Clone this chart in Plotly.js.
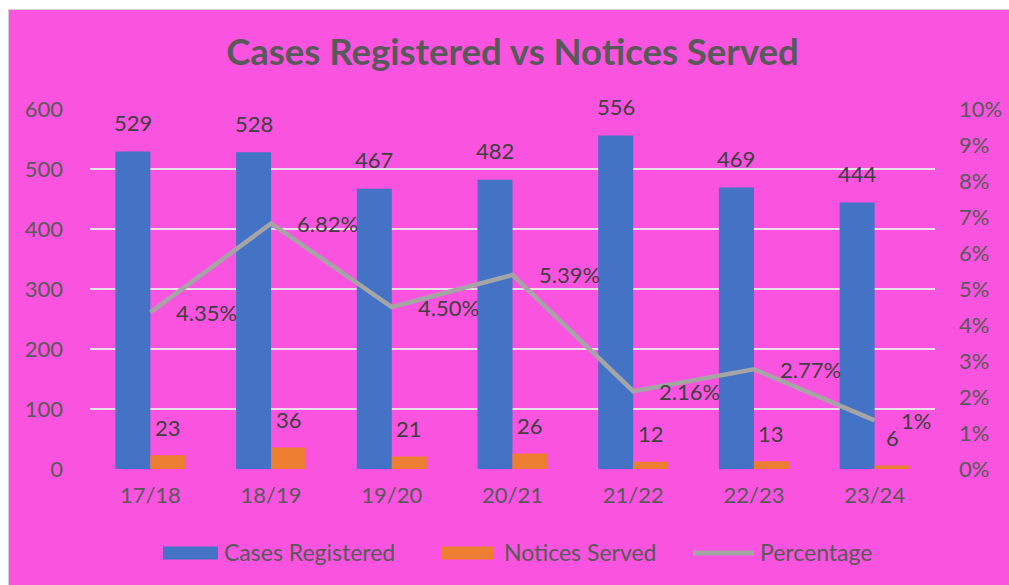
<!DOCTYPE html>
<html>
<head>
<meta charset="utf-8">
<script src="https://cdn.plot.ly/plotly-3.0.1.min.js"></script>
<style>
  html, body { margin: 0; padding: 0; background: #ffffff; width: 1009px; height: 585px; overflow: hidden; }
  #frame { position: absolute; left: 8px; top: 9px; width: 1001px; height: 576px; background: #d4cdd3; }
  #chart { position: absolute; left: 1px; top: 1px; width: 1000px; height: 575px; }
</style>
</head>
<body>
<div id="frame"><div id="chart"></div></div>
<script>
const categories = ["17/18", "18/19", "19/20", "20/21", "21/22", "22/23", "23/24"];
const casesRegistered = [529, 528, 467, 482, 556, 469, 444];
const noticesServed = [23, 36, 21, 26, 12, 13, 6];
const percentage = [4.35, 6.82, 4.50, 5.39, 2.16, 2.77, 1.35];
const percentageLabels = ["4.35%", "6.82%", "4.50%", "5.39%", "2.16%", "2.77%", "1%"];
const leftTicks = [0, 100, 200, 300, 400, 500, 600];
const rightTicks = [0, 1, 2, 3, 4, 5, 6, 7, 8, 9, 10];
const rightTickText = rightTicks.map(v => v + "%");
const seriesNames = ["Cases Registered", "Notices Served", "Percentage"];
const seriesColors = ["#4472C4", "#ED7D31", "#A5A5A5"];

const FONT = "Lato, 'Open Sans', sans-serif";
const TICK_COLOR = "#595959";
const LABEL_COLOR = "#404040";
const PINK = "#F953DF";

const W = 1000, H = 575;
const M = { l: 81, r: 74, t: 99, b: 116 };
const PW = W - M.l - M.r, PH = H - M.t - M.b;
// container pixel -> paper coords (div origin)
const px = x => (x - M.l) / PW;
const py = y => (H - M.b - y) / PH;

const traces = [
  {
    type: "bar", name: seriesNames[0], x: categories, y: casesRegistered,
    marker: { color: seriesColors[0] }, hoverinfo: "x+y", showlegend: false
  },
  {
    type: "bar", name: seriesNames[1], x: categories, y: noticesServed,
    marker: { color: seriesColors[1] }, hoverinfo: "x+y", showlegend: false
  },
  {
    type: "scatter", mode: "lines", name: seriesNames[2], x: categories, y: percentage,
    yaxis: "y2", line: { color: seriesColors[2], width: 4.5 }, hoverinfo: "x+y", showlegend: false
  }
];

const annotations = [];
categories.forEach((c, i) => {
  annotations.push({
    x: c, y: casesRegistered[i], xref: "x", yref: "y", text: String(casesRegistered[i]),
    showarrow: false, xshift: -17.5, yshift: 29, yanchor: "middle", xanchor: "center",
    font: { family: FONT, size: 22, color: LABEL_COLOR }
  });
  annotations.push({
    x: c, y: noticesServed[i], xref: "x", yref: "y", text: String(noticesServed[i]),
    showarrow: false, xshift: 17.5, yshift: 28, yanchor: "middle", xanchor: "center",
    font: { family: FONT, size: 22, color: LABEL_COLOR }
  });
  annotations.push({
    x: c, y: percentage[i], xref: "x", yref: "y2", text: percentageLabels[i],
    showarrow: false, xshift: 24, yshift: 0, yanchor: "middle", xanchor: "left",
    font: { family: FONT, size: 22, color: LABEL_COLOR }
  });
});

// Custom legend (container pixel positions within the chart div)
const legendY = 543;          // centre line of legend row
const legendItems = [
  { kind: "rect", x0: 154, x1: 209, textX: 213 },
  { kind: "rect", x0: 432, x1: 485, textX: 493 },
  { kind: "line", x0: 684, x1: 745, textX: 749 }
];
const shapes = [];
legendItems.forEach((it, i) => {
  if (it.kind === "rect") {
    shapes.push({
      type: "rect", xref: "paper", yref: "paper",
      x0: px(it.x0), x1: px(it.x1), y0: py(legendY + 6.5), y1: py(legendY - 6.5),
      fillcolor: seriesColors[i], line: { width: 0 }
    });
  } else {
    shapes.push({
      type: "line", xref: "paper", yref: "paper",
      x0: px(it.x0), x1: px(it.x1), y0: py(legendY), y1: py(legendY),
      line: { color: seriesColors[i], width: 5 }
    });
  }
  annotations.push({
    xref: "paper", yref: "paper", x: px(it.textX), y: py(legendY - 1),
    xanchor: "left", yanchor: "middle", showarrow: false, text: seriesNames[i],
    font: { family: FONT, size: 23, color: TICK_COLOR }
  });
});

const layout = {
  width: W, height: H,
  paper_bgcolor: PINK, plot_bgcolor: PINK,
  margin: M,
  font: { family: FONT, size: 22, color: TICK_COLOR },
  title: {
    text: "<b>Cases Registered vs Notices Served</b>",
    font: { family: FONT, size: 36.5, color: "#595959" },
    x: 0.5, xanchor: "center", xref: "paper",
    y: 1 - 42 / H, yref: "container", yanchor: "middle"
  },
  barmode: "group", bargap: 0.42, bargroupgap: 0,
  xaxis: {
    type: "category", showgrid: false, zeroline: false, showline: false,
    ticks: "", ticklabelstandoff: 11,
    tickfont: { family: FONT, size: 22, color: TICK_COLOR }
  },
  yaxis: {
    range: [0, 600], tickvals: leftTicks, showgrid: true,
    gridcolor: "#ECDDE9", gridwidth: 1.5, zeroline: false, showline: false,
    ticks: "", ticklabelstandoff: 26,
    tickfont: { family: FONT, size: 22, color: TICK_COLOR }
  },
  yaxis2: {
    range: [0, 10], tickvals: rightTicks, ticktext: rightTickText, overlaying: "y", side: "right",
    showgrid: false, zeroline: false, showline: false, ticks: "", ticklabelstandoff: 23,
    tickfont: { family: FONT, size: 22, color: TICK_COLOR }
  },
  showlegend: false,
  shapes: shapes,
  annotations: annotations
};

Plotly.newPlot("chart", traces, layout, { displayModeBar: false, staticPlot: true });
</script>
</body>
</html>
